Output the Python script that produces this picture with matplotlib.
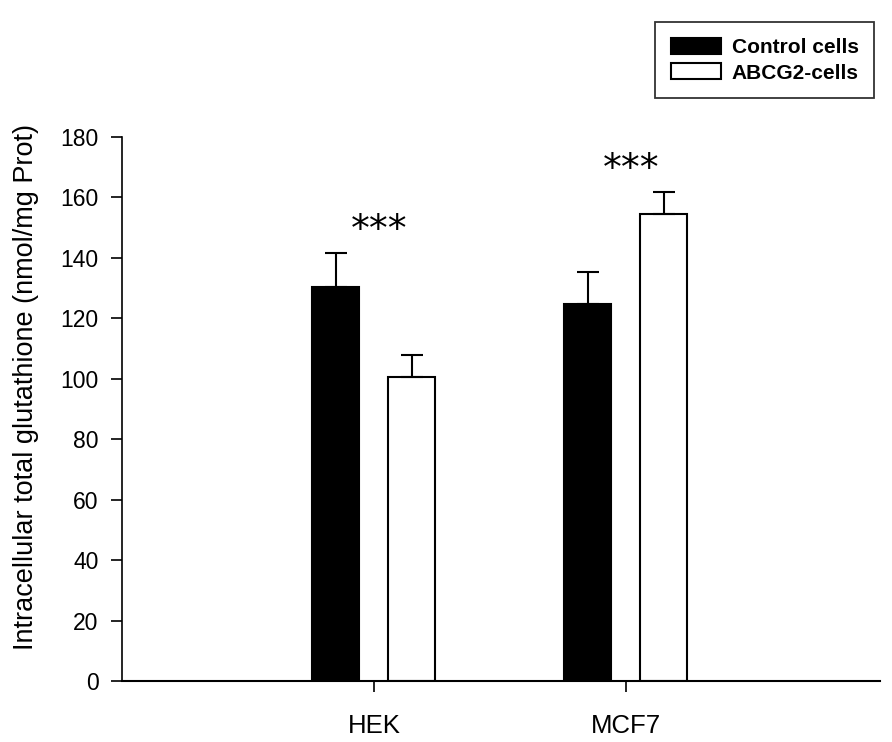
import matplotlib
matplotlib.use("Agg")
import matplotlib.pyplot as plt
import numpy as np

plt.rcParams["font.family"] = ["Liberation Sans", "DejaVu Sans"]

# ── data ──────────────────────────────────────────────────────────────────────
cell_lines = ["HEK", "MCF7"]
control = [130.5, 124.8]
control_err = [11.2, 10.4]
abcg2 = [100.5, 154.5]
abcg2_err = [7.5, 7.2]
stars = ["***", "***"]
star_y = [149, 169]

YLABEL = "Intracellular total glutathione (nmol/mg Prot)"

fig = plt.figure(figsize=(8.92, 7.42), dpi=100)
ax = fig.add_axes([0.1368, 0.0822, 0.8497, 0.7332])

x = np.arange(len(cell_lines))
w, off = 0.187, 0.151

ax.bar(x - off, control, w, color="black", edgecolor="black", lw=1.5,
       label="Control cells", zorder=2)
ax.bar(x + off, abcg2, w, color="white", edgecolor="black", lw=1.5,
       label="ABCG2-cells", zorder=2)
err_kw = dict(fmt="none", ecolor="black", elinewidth=1.5, capsize=8,
              capthick=1.5, zorder=3)
ax.errorbar(x - off, control, yerr=[np.zeros(2), control_err], **err_kw)
ax.errorbar(x + off, abcg2, yerr=[np.zeros(2), abcg2_err], **err_kw)

# significance marks
for xi, s, yy in zip(x, stars, star_y):
    ax.text(xi + 0.02, yy, s, ha="center", va="center", fontsize=27,
            family="DejaVu Sans")

ax.set_xlim(-1.0, 2.01)
ax.set_ylim(0, 180)
ax.set_yticks(np.arange(0, 181, 20))
ax.set_xticks(x)
ax.set_xticklabels(cell_lines)
ax.tick_params(axis="both", length=8, width=1.2, direction="out")
ax.tick_params(axis="y", labelsize=16.5, pad=9)
ax.tick_params(axis="x", labelsize=18.5, pad=16)
ax.set_ylabel(YLABEL, fontsize=19.5)
ax.yaxis.set_label_coords(-0.11, 0.54)

for side in ("top", "right"):
    ax.spines[side].set_visible(False)
ax.spines["left"].set_linewidth(1.2)
ax.spines["bottom"].set_linewidth(1.5)

leg = fig.legend(loc="upper right", bbox_to_anchor=(0.98, 0.97),
                 frameon=True, fancybox=False, edgecolor="black",
                 prop={"size": 15, "weight": "bold"}, handlelength=2.4,
                 handleheight=0.8, handletextpad=0.5, borderpad=0.75,
                 labelspacing=0.3, borderaxespad=0)
leg.get_frame().set_linewidth(1.3)

fig.savefig("out.png", dpi=100)
